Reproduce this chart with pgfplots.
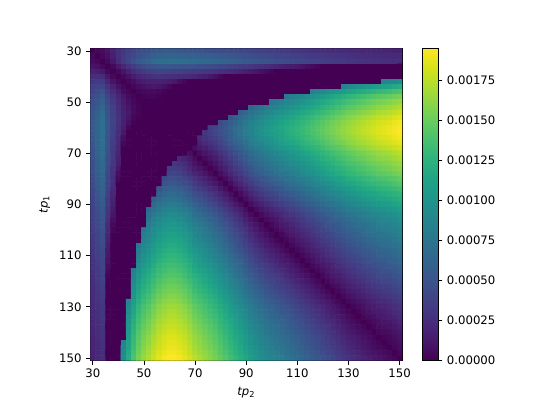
\documentclass[border=0pt]{standalone}
\usepackage{fontspec}
\setmainfont{DejaVu Sans}
\usepackage{pgfplots}
\pgfplotsset{compat=1.18}
\usepackage{pgfplotstable}
% cell values in units of 1e-5, one \row per tp1 = 30,32,...,150, tp2 = 30,32,...,150
\newcommand\tbl{}
\newcommand\row[1]{\foreach \v in {#1}{\xdef\tbl{\unexpanded\expandafter{\tbl}\v\noexpand\\}}}
\row{0,3,6,10,18,25,31,36,40,44,47,50,52,53,54,54,54,53,52,51,50,49,48,47,46,45,44,43,42,41,40,39,38,37,36,35,34,33,32,31,30,29,28,27,26,25,25,24,24,23,23,22,22,21,21,20,20,19,19,18,18}
\row{3,0,4,8,16,26,33,39,44,48,52,55,58,61,62,63,63,62,61,60,60,59,58,57,56,55,54,53,52,50,48,47,46,44,43,42,41,40,39,38,36,35,34,33,33,32,31,30,29,28,27,26,26,25,25,24,24,23,23,22,22}
\row{6,4,0,4,12,24,33,41,48,54,59,63,67,70,71,72,72,71,70,69,68,67,66,65,64,63,62,60,59,57,55,53,52,50,49,48,46,45,44,43,41,40,39,38,37,36,35,34,33,32,31,30,29,29,28,27,27,26,26,25,25}
\row{10,8,4,0,4,12,20,28,34,40,44,48,50,52,53,53,52,51,50,49,48,46,45,44,43,41,40,38,36,34,32,30,28,26,24,22,20,18,16,14,12,10,7,5,3,0,0,0,0,0,0,0,0,0,0,0,0,0,0,0,0}
\row{18,16,12,4,0,4,10,18,24,29,33,36,38,39,39,38,37,36,35,34,33,32,30,29,28,26,25,23,21,19,17,14,11,8,5,2,0,0,0,0,0,0,0,0,0,0,0,0,0,0,0,0,0,0,0,0,0,0,0,0,0}
\row{25,26,24,12,4,0,4,9,15,20,23,25,27,28,27,26,25,24,23,22,20,18,16,12,8,4,0,0,0,0,0,0,0,0,0,0,0,0,0,0,0,0,0,0,0,0,0,0,0,0,0,0,0,0,0,0,0,0,0,0,0}
\row{31,33,33,20,10,4,0,3,7,12,15,17,18,18,17,15,12,7,3,0,0,0,0,0,0,0,0,0,0,0,0,0,0,0,0,0,0,0,0,0,0,0,0,0,0,0,0,0,0,0,0,0,0,0,0,0,0,87,89,92,95}
\row{36,39,41,28,18,9,3,0,3,6,9,11,12,11,8,3,0,0,0,0,0,0,0,0,0,0,0,0,0,0,0,0,0,0,0,0,0,0,0,0,0,0,0,0,0,0,0,0,0,88,92,95,98,101,104,107,110,112,114,117,120}
\row{40,44,48,34,24,15,7,3,0,2,4,5,5,3,1,0,0,0,0,0,0,0,0,0,0,0,0,0,0,0,0,0,0,0,0,0,0,0,0,0,0,0,0,84,88,92,96,100,104,108,112,115,118,121,124,127,130,132,134,137,140}
\row{44,48,54,40,29,20,12,6,2,0,1,2,2,1,0,0,0,0,0,0,0,0,0,0,0,0,0,0,0,0,0,0,0,0,0,0,0,0,79,83,87,91,95,99,103,107,111,115,119,123,127,130,133,136,139,142,145,147,149,152,155}
\row{47,52,59,44,33,23,15,9,4,1,0,0,0,0,0,0,0,0,0,0,0,0,0,0,0,0,0,0,0,0,0,0,0,0,0,77,81,85,89,93,97,101,105,109,113,117,121,125,129,133,137,140,143,146,149,152,155,157,159,162,165}
\row{50,55,63,48,36,25,17,11,5,2,0,0,0,0,0,0,0,0,0,0,0,0,0,0,0,0,0,0,0,0,0,64,70,75,80,84,88,92,96,100,104,108,112,116,120,124,128,132,136,140,144,147,150,153,156,159,162,164,166,169,172}
\row{52,58,67,50,38,27,18,12,5,2,0,0,0,0,0,0,0,0,0,0,0,0,0,0,0,0,0,0,0,58,65,72,78,83,88,92,96,100,104,108,112,116,120,124,128,132,136,140,144,148,152,155,158,161,164,167,170,172,174,177,180}
\row{53,61,70,52,39,28,18,11,3,1,0,0,0,0,0,0,0,0,0,0,0,0,0,0,0,0,0,52,59,65,72,79,85,90,95,99,103,107,111,115,119,123,127,131,135,139,143,147,151,155,159,162,165,168,171,174,177,179,181,184,187}
\row{54,62,71,53,39,27,17,8,1,0,0,0,0,0,0,0,0,0,0,0,0,0,0,0,0,44,50,57,64,70,77,84,90,95,100,104,108,112,116,120,124,128,132,136,140,144,148,152,156,160,164,167,170,173,176,179,182,184,186,189,192}
\row{54,63,72,53,38,26,15,3,0,0,0,0,0,0,0,0,0,0,0,0,0,0,0,35,40,47,53,60,67,73,80,87,93,98,103,107,111,115,119,123,127,131,135,139,143,147,151,155,159,163,167,170,173,176,179,182,185,187,189,192,195}
\row{54,63,72,52,37,25,12,0,0,0,0,0,0,0,0,0,0,0,0,0,0,0,30,35,40,47,53,60,67,73,80,87,93,98,103,107,111,115,119,123,127,131,135,139,143,147,151,155,159,163,167,170,173,176,179,182,185,187,189,192,195}
\row{53,62,71,51,36,24,7,0,0,0,0,0,0,0,0,0,0,0,0,0,0,22,27,32,37,44,50,57,64,70,77,84,90,95,100,104,108,112,116,120,124,128,132,136,140,144,148,152,156,160,164,167,170,173,176,179,182,184,186,189,192}
\row{52,61,70,50,35,23,3,0,0,0,0,0,0,0,0,0,0,0,0,0,0,18,23,28,33,40,46,53,60,66,73,80,86,91,96,100,104,108,112,116,120,124,128,132,136,140,144,148,152,156,160,163,166,169,172,175,178,180,182,185,188}
\row{51,60,69,49,34,22,0,0,0,0,0,0,0,0,0,0,0,0,0,0,7,12,17,22,27,34,40,47,54,60,67,74,80,85,90,94,98,102,106,110,114,118,122,126,130,134,138,142,146,150,154,157,160,163,166,169,172,174,176,179,182}
\row{50,60,68,48,33,20,0,0,0,0,0,0,0,0,0,0,0,0,0,7,0,5,10,15,20,27,33,40,47,53,60,67,73,78,83,87,91,95,99,103,107,111,115,119,123,127,131,135,139,143,147,150,153,156,159,162,165,167,169,172,175}
\row{49,59,67,46,32,18,0,0,0,0,0,0,0,0,0,0,0,22,18,12,5,0,5,10,15,22,28,35,42,48,55,62,68,73,78,82,86,90,94,98,102,106,110,114,118,122,126,130,134,138,142,145,148,151,154,157,160,162,164,167,170}
\row{48,58,66,45,30,16,0,0,0,0,0,0,0,0,0,0,30,27,23,17,10,5,0,5,10,17,23,30,37,43,50,57,63,68,73,77,81,85,89,93,97,101,105,109,113,117,121,125,129,133,137,140,143,146,149,152,155,157,159,162,165}
\row{47,57,65,44,29,12,0,0,0,0,0,0,0,0,0,35,35,32,28,22,15,10,5,0,5,12,18,25,32,38,45,52,58,63,68,72,76,80,84,88,92,96,100,104,108,112,116,120,124,128,132,135,138,141,144,147,150,152,154,157,160}
\row{46,56,64,43,28,8,0,0,0,0,0,0,0,0,0,40,40,37,33,27,20,15,10,5,0,7,13,20,27,33,40,47,53,58,63,67,71,75,79,83,87,91,95,99,103,107,111,115,119,123,127,130,133,136,139,142,145,147,149,152,155}
\row{45,55,63,41,26,4,0,0,0,0,0,0,0,0,44,47,47,44,40,34,27,22,17,12,7,0,6,13,20,26,33,40,46,51,56,60,64,68,72,76,80,84,88,92,96,100,104,108,112,116,120,123,126,129,132,135,138,140,142,145,148}
\row{44,54,62,40,25,0,0,0,0,0,0,0,0,0,50,53,53,50,46,40,33,28,23,18,13,6,0,7,14,20,27,34,40,45,50,54,58,62,66,70,74,78,82,86,90,94,98,102,106,110,114,117,120,123,126,129,132,134,136,139,142}
\row{43,53,60,38,23,0,0,0,0,0,0,0,0,52,57,60,60,57,53,47,40,35,30,25,20,13,7,0,7,13,20,27,33,38,43,47,51,55,59,63,67,71,75,79,83,87,91,95,99,103,107,110,113,116,119,122,125,127,129,132,135}
\row{42,52,59,36,21,0,0,0,0,0,0,0,0,59,64,67,67,64,60,54,47,42,37,32,27,20,14,7,0,6,13,20,26,31,36,40,44,48,52,56,60,64,68,72,76,80,84,88,92,96,100,103,106,109,112,115,118,120,122,125,128}
\row{41,50,57,34,19,0,0,0,0,0,0,0,58,65,70,73,73,70,66,60,53,48,43,38,33,26,20,13,6,0,7,14,20,25,30,34,38,42,46,50,54,58,62,66,70,74,78,82,86,90,94,97,100,103,106,109,112,114,116,119,122}
\row{40,48,55,32,17,0,0,0,0,0,0,0,65,72,77,80,80,77,73,67,60,55,50,45,40,33,27,20,13,7,0,7,13,18,23,27,31,35,39,43,47,51,55,59,63,67,71,75,79,83,87,90,93,96,99,102,105,107,109,112,115}
\row{39,47,53,30,14,0,0,0,0,0,0,64,72,79,84,87,87,84,80,74,67,62,57,52,47,40,34,27,20,14,7,0,6,11,16,20,24,28,32,36,40,44,48,52,56,60,64,68,72,76,80,83,86,89,92,95,98,100,102,105,108}
\row{38,46,52,28,11,0,0,0,0,0,0,70,78,85,90,93,93,90,86,80,73,68,63,58,53,46,40,33,26,20,13,6,0,5,10,14,18,22,26,30,34,38,42,46,50,54,58,62,66,70,74,77,80,83,86,89,92,94,96,99,102}
\row{37,44,50,26,8,0,0,0,0,0,0,75,83,90,95,98,98,95,91,85,78,73,68,63,58,51,45,38,31,25,18,11,5,0,5,9,13,17,21,25,29,33,37,41,45,49,53,57,61,65,69,72,75,78,81,84,87,89,91,94,97}
\row{36,43,49,24,5,0,0,0,0,0,0,80,88,95,100,103,103,100,96,90,83,78,73,68,63,56,50,43,36,30,23,16,10,5,0,4,8,12,16,20,24,28,32,36,40,44,48,52,56,60,64,67,70,73,76,79,82,84,86,89,92}
\row{35,42,48,22,2,0,0,0,0,0,77,84,92,99,104,107,107,104,100,94,87,82,77,72,67,60,54,47,40,34,27,20,14,9,4,0,4,8,12,16,20,24,28,32,36,40,44,48,52,56,60,63,66,69,72,75,78,80,82,85,88}
\row{34,41,46,20,0,0,0,0,0,0,81,88,96,103,108,111,111,108,104,98,91,86,81,76,71,64,58,51,44,38,31,24,18,13,8,4,0,4,8,12,16,20,24,28,32,36,40,44,48,52,56,59,62,65,68,71,74,76,78,81,84}
\row{33,40,45,18,0,0,0,0,0,0,85,92,100,107,112,115,115,112,108,102,95,90,85,80,75,68,62,55,48,42,35,28,22,17,12,8,4,0,4,8,12,16,20,24,28,32,36,40,44,48,52,55,58,61,64,67,70,72,74,77,80}
\row{32,39,44,16,0,0,0,0,0,79,89,96,104,111,116,119,119,116,112,106,99,94,89,84,79,72,66,59,52,46,39,32,26,21,16,12,8,4,0,4,8,12,16,20,24,28,32,36,40,44,48,51,54,57,60,63,66,68,70,73,76}
\row{31,38,43,14,0,0,0,0,0,83,93,100,108,115,120,123,123,120,116,110,103,98,93,88,83,76,70,63,56,50,43,36,30,25,20,16,12,8,4,0,4,8,12,16,20,24,28,32,36,40,44,47,50,53,56,59,62,64,66,69,72}
\row{30,36,41,12,0,0,0,0,0,87,97,104,112,119,124,127,127,124,120,114,107,102,97,92,87,80,74,67,60,54,47,40,34,29,24,20,16,12,8,4,0,4,8,12,16,20,24,28,32,36,40,43,46,49,52,55,58,60,62,65,68}
\row{29,35,40,10,0,0,0,0,0,91,101,108,116,123,128,131,131,128,124,118,111,106,101,96,91,84,78,71,64,58,51,44,38,33,28,24,20,16,12,8,4,0,4,8,12,16,20,24,28,32,36,39,42,45,48,51,54,56,58,61,64}
\row{28,34,39,7,0,0,0,0,0,95,105,112,120,127,132,135,135,132,128,122,115,110,105,100,95,88,82,75,68,62,55,48,42,37,32,28,24,20,16,12,8,4,0,4,8,12,16,20,24,28,32,35,38,41,44,47,50,52,54,57,60}
\row{27,33,38,5,0,0,0,0,84,99,109,116,124,131,136,139,139,136,132,126,119,114,109,104,99,92,86,79,72,66,59,52,46,41,36,32,28,24,20,16,12,8,4,0,4,8,12,16,20,24,28,31,34,37,40,43,46,48,50,53,56}
\row{26,33,37,3,0,0,0,0,88,103,113,120,128,135,140,143,143,140,136,130,123,118,113,108,103,96,90,83,76,70,63,56,50,45,40,36,32,28,24,20,16,12,8,4,0,4,8,12,16,20,24,27,30,33,36,39,42,44,46,49,52}
\row{25,32,36,0,0,0,0,0,92,107,117,124,132,139,144,147,147,144,140,134,127,122,117,112,107,100,94,87,80,74,67,60,54,49,44,40,36,32,28,24,20,16,12,8,4,0,4,8,12,16,20,23,26,29,32,35,38,40,42,45,48}
\row{25,31,35,0,0,0,0,0,96,111,121,128,136,143,148,151,151,148,144,138,131,126,121,116,111,104,98,91,84,78,71,64,58,53,48,44,40,36,32,28,24,20,16,12,8,4,0,4,8,12,16,19,22,25,28,31,34,36,38,41,44}
\row{24,30,34,0,0,0,0,0,100,115,125,132,140,147,152,155,155,152,148,142,135,130,125,120,115,108,102,95,88,82,75,68,62,57,52,48,44,40,36,32,28,24,20,16,12,8,4,0,4,8,12,15,18,21,24,27,30,32,34,37,40}
\row{24,29,33,0,0,0,0,0,104,119,129,136,144,151,156,159,159,156,152,146,139,134,129,124,119,112,106,99,92,86,79,72,66,61,56,52,48,44,40,36,32,28,24,20,16,12,8,4,0,4,8,11,14,17,20,23,26,28,30,33,36}
\row{23,28,32,0,0,0,0,88,108,123,133,140,148,155,160,163,163,160,156,150,143,138,133,128,123,116,110,103,96,90,83,76,70,65,60,56,52,48,44,40,36,32,28,24,20,16,12,8,4,0,4,7,10,13,16,19,22,24,26,29,32}
\row{23,27,31,0,0,0,0,92,112,127,137,144,152,159,164,167,167,164,160,154,147,142,137,132,127,120,114,107,100,94,87,80,74,69,64,60,56,52,48,44,40,36,32,28,24,20,16,12,8,4,0,3,6,9,12,15,18,20,22,25,28}
\row{22,26,30,0,0,0,0,95,115,130,140,147,155,162,167,170,170,167,163,157,150,145,140,135,130,123,117,110,103,97,90,83,77,72,67,63,59,55,51,47,43,39,35,31,27,23,19,15,11,7,3,0,3,6,9,12,15,17,19,22,25}
\row{22,26,29,0,0,0,0,98,118,133,143,150,158,165,170,173,173,170,166,160,153,148,143,138,133,126,120,113,106,100,93,86,80,75,70,66,62,58,54,50,46,42,38,34,30,26,22,18,14,10,6,3,0,3,6,9,12,14,16,19,22}
\row{21,25,29,0,0,0,0,101,121,136,146,153,161,168,173,176,176,173,169,163,156,151,146,141,136,129,123,116,109,103,96,89,83,78,73,69,65,61,57,53,49,45,41,37,33,29,25,21,17,13,9,6,3,0,3,6,9,11,13,16,19}
\row{21,25,28,0,0,0,0,104,124,139,149,156,164,171,176,179,179,176,172,166,159,154,149,144,139,132,126,119,112,106,99,92,86,81,76,72,68,64,60,56,52,48,44,40,36,32,28,24,20,16,12,9,6,3,0,3,6,8,10,13,16}
\row{20,24,27,0,0,0,0,107,127,142,152,159,167,174,179,182,182,179,175,169,162,157,152,147,142,135,129,122,115,109,102,95,89,84,79,75,71,67,63,59,55,51,47,43,39,35,31,27,23,19,15,12,9,6,3,0,3,5,7,10,13}
\row{20,24,27,0,0,0,0,110,130,145,155,162,170,177,182,185,185,182,178,172,165,160,155,150,145,138,132,125,118,112,105,98,92,87,82,78,74,70,66,62,58,54,50,46,42,38,34,30,26,22,18,15,12,9,6,3,0,2,4,7,10}
\row{19,23,26,0,0,0,87,112,132,147,157,164,172,179,184,187,187,184,180,174,167,162,157,152,147,140,134,127,120,114,107,100,94,89,84,80,76,72,68,64,60,56,52,48,44,40,36,32,28,24,20,17,14,11,8,5,2,0,2,5,8}
\row{19,23,26,0,0,0,89,114,134,149,159,166,174,181,186,189,189,186,182,176,169,164,159,154,149,142,136,129,122,116,109,102,96,91,86,82,78,74,70,66,62,58,54,50,46,42,38,34,30,26,22,19,16,13,10,7,4,2,0,3,6}
\row{18,22,25,0,0,0,92,117,137,152,162,169,177,184,189,192,192,189,185,179,172,167,162,157,152,145,139,132,125,119,112,105,99,94,89,85,81,77,73,69,65,61,57,53,49,45,41,37,33,29,25,22,19,16,13,10,7,5,3,0,3}
\row{18,22,25,0,0,0,95,120,140,155,165,172,180,187,192,195,195,192,188,182,175,170,165,160,155,148,142,135,128,122,115,108,102,97,92,88,84,80,76,72,68,64,60,56,52,48,44,40,36,32,28,25,22,19,16,13,10,8,6,3,0}
\edef\temp{\noexpand\pgfplotstableread[row sep=\noexpand\\,header=false]{\unexpanded\expandafter{\tbl}}\noexpand\cells}
\temp
\begin{document}
\begin{tikzpicture}[x=1pt,y=1pt]
\path[use as bounding box] (0,0) rectangle (404.25,303.75);
\begin{axis}[
  at={(67.7pt,33.4pt)},anchor=south west,
  scale only axis,width=233.9pt,height=233.9pt,
  xmin=29,xmax=151,ymin=29,ymax=151,y dir=reverse,
  xtick={30,50,...,150},ytick={30,50,...,150},
  xtick pos=lower,ytick pos=left,xticklabel pos=lower,
  tick align=outside,major tick length=3.07pt,
  every tick/.style={black,line width=0.6pt},
  axis line style={line width=0.6pt},
  tick label style={font=\fontsize{8.77}{10}\selectfont},
  label style={font=\fontsize{8.77}{10}\selectfont},
  /pgf/number format/assume math mode=true,
  xlabel={\textit{tp}\textsubscript{2}},ylabel={\textit{tp}\textsubscript{1}},
  colormap/viridis,point meta min=0,point meta max=195,
  colorbar,
  colorbar style={
    at={(parent axis.north east)},anchor=north west,xshift=6.8pt,
    width=11.7pt,
    ytick={0,25,...,175},
    yticklabels={0.00000,0.00025,0.00050,0.00075,0.00100,0.00125,0.00150,0.00175},
    ytick pos=right,yticklabel pos=right,
    tick align=outside,major tick length=3.07pt,
    every tick/.style={black,line width=0.6pt},
    axis line style={line width=0.6pt},
    tick label style={font=\fontsize{8.77}{10}\selectfont},
  },
]
\addplot[matrix plot*,mesh/cols=61,point meta=explicit] table[
  x index=0,y index=0,
  x expr={30+2*(\coordindex-61*floor((\coordindex+0.5)/61))},
  y expr={30+2*floor((\coordindex+0.5)/61)},
  meta index=0] {\cells};
\end{axis}
\end{tikzpicture}
\end{document}
